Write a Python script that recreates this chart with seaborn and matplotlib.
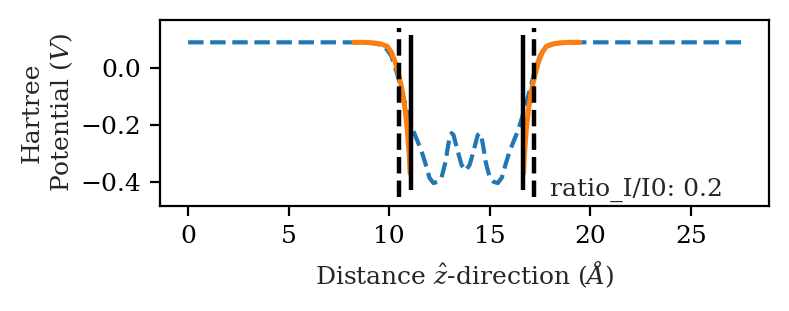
import matplotlib
matplotlib.use("Agg")
import matplotlib.pyplot as plt
import seaborn as sns
import pandas as pd

# --- DATA ---
# Hartree potential along z (dashed blue)
z_pot = [0.0, 2.0, 4.0, 6.0, 8.0, 8.5, 9.0, 9.4, 9.8, 10.1, 10.4, 10.7, 11.0,
         11.2, 11.4, 11.6, 11.8, 12.0, 12.2, 12.4, 12.6, 12.8, 12.9, 13.0, 13.1,
         13.2, 13.4, 13.6, 13.8, 14.0, 14.2, 14.4, 14.5, 14.6, 14.7, 14.8, 15.0,
         15.2, 15.4, 15.6, 15.8, 16.0, 16.2, 16.4, 16.6, 16.9, 17.2, 17.5, 17.8,
         18.2, 18.6, 19.1, 19.6, 21.0, 23.0, 25.0, 27.5]
v_pot = [0.092, 0.092, 0.092, 0.092, 0.092, 0.091, 0.09, 0.087, 0.075, 0.045,
         -0.02, -0.10, -0.175, -0.22, -0.255, -0.29, -0.335, -0.385, -0.404,
         -0.40, -0.385, -0.33, -0.285, -0.245, -0.228, -0.235, -0.29, -0.34,
         -0.36, -0.34, -0.29, -0.235, -0.228, -0.245, -0.285, -0.33, -0.385,
         -0.40, -0.404, -0.385, -0.335, -0.29, -0.255, -0.22, -0.175, -0.10,
         -0.02, 0.045, 0.075, 0.087, 0.09, 0.091, 0.092, 0.092, 0.092, 0.092, 0.092]

# fitted wall tails (solid orange)
z_left = [8.25, 8.75, 9.25, 9.6, 9.9, 10.1, 10.3, 10.5, 10.65, 10.8, 10.9,
          10.95, 11.0, 11.04]
v_left = [0.092, 0.092, 0.09, 0.086, 0.078, 0.058, 0.022, -0.03, -0.08, -0.15,
          -0.215, -0.26, -0.31, -0.37]
z_right = [16.68, 16.72, 16.77, 16.82, 16.92, 17.07, 17.22, 17.42, 17.62,
           17.82, 18.12, 18.47, 18.97, 19.47]
v_right = [-0.37, -0.31, -0.26, -0.215, -0.15, -0.08, -0.03, 0.022, 0.058,
           0.078, 0.086, 0.09, 0.092, 0.092]

# wall positions
walls_dashed = [10.5, 17.2]
walls_solid = [11.06, 16.66]
ratio = 0.2

# --- PLOT ---
sns.set_style("ticks")
plt.rcParams["font.family"] = ["DejaVu Serif"]
plt.rcParams["mathtext.fontset"] = "dejavuserif"
plt.rcParams["font.size"] = 9

fig, ax = plt.subplots(figsize=(3.945, 1.555), dpi=200)
fig.subplots_adjust(left=0.2034, right=0.9743, top=0.9367, bottom=0.3386)

sns.lineplot(x=z_pot, y=v_pot, ax=ax, color="#1f77b4", linestyle="--", lw=1.5,
             sort=False, estimator=None)
sns.lineplot(x=z_left, y=v_left, ax=ax, color="#ff7f0e", lw=1.8, sort=False,
             estimator=None)
sns.lineplot(x=z_right, y=v_right, ax=ax, color="#ff7f0e", lw=1.8, sort=False,
             estimator=None)

vmin, vmax = min(v_pot), max(v_pot)
ax.vlines(walls_dashed, vmin - 0.05, vmax + 0.05, colors="k", linestyles="--", lw=1.6)
ax.vlines(walls_solid, vmin - 0.025, vmax + 0.025, colors="k", lw=1.6)

ax.text(18.0, -0.448, f"ratio_I/I0: {ratio}")

ax.set_xticks([0, 5, 10, 15, 20, 25])
ax.set_yticks([0.0, -0.2, -0.4])
ax.set_xlabel(r"Distance $\hat{z}$-direction ($\AA$)")
ax.set_ylabel("Hartree\n" + r"Potential ($V$)", labelpad=2)

for s in ax.spines.values():
    s.set_linewidth(0.8)
    s.set_color("black")
ax.tick_params(colors="black", width=0.8, length=3.5)

fig.savefig("out.png", dpi=200)
